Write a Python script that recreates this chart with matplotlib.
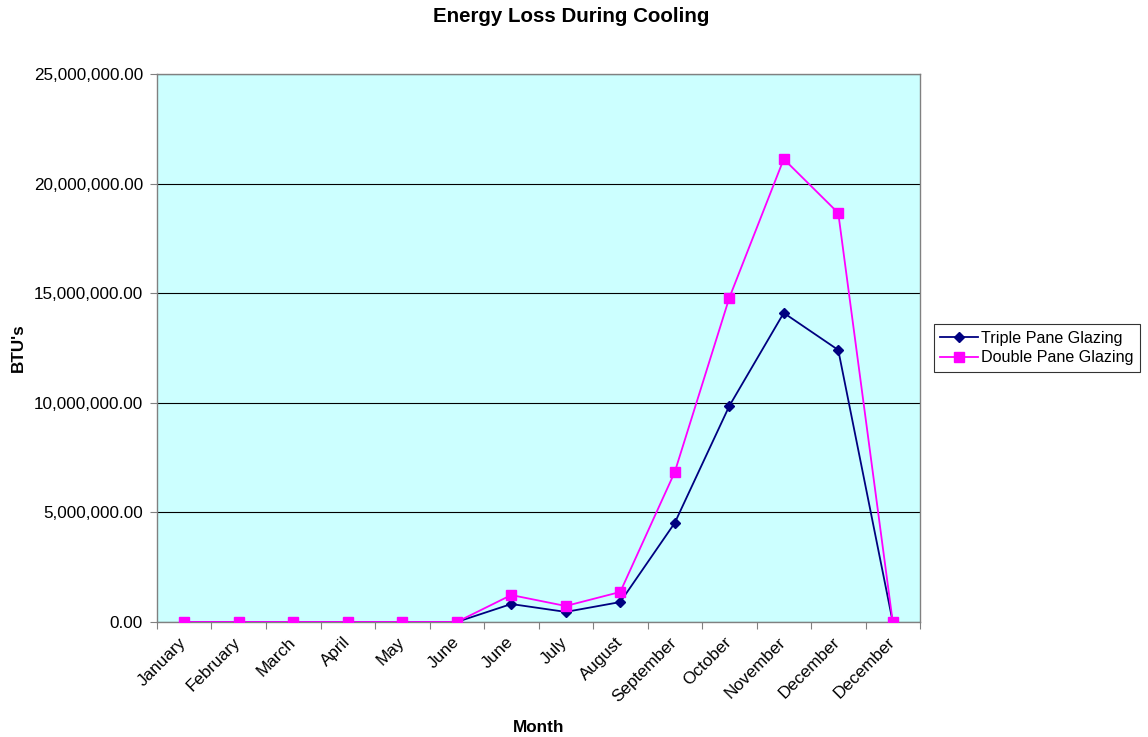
import matplotlib
matplotlib.use("Agg")
import matplotlib.pyplot as plt
from matplotlib.ticker import FuncFormatter, MultipleLocator, FixedLocator
from matplotlib.transforms import ScaledTranslation

months = ["January", "February", "March", "April", "May", "June", "June",
          "July", "August", "September", "October", "November", "December", "December"]
triple = [0, 0, 0, 0, 0, 0, 820000, 460000, 910000, 4520000, 9850000,
          14100000, 12410000, 0]
double = [0, 0, 0, 0, 0, 0, 1230000, 730000, 1370000, 6840000, 14780000,
          21120000, 18660000, 0]

plt.rcParams['font.family'] = ['Liberation Sans', 'DejaVu Sans']
FS = 12.3

fig = plt.figure(figsize=(11.48, 7.37), dpi=100)
ax = fig.add_axes([157/1148, 1 - 622/737, (920-157)/1148, (622-74)/737])
ax.set_facecolor('#CCFFFF')

x = list(range(len(months)))
ax.plot(x, triple, color='#000080', marker='D', markersize=5.5, linewidth=1.3,
        label='Triple Pane Glazing', zorder=3)
ax.plot(x, double, color='#FF00FF', marker='s', markersize=6.5, linewidth=1.3,
        label='Double Pane Glazing', zorder=4)

ax.set_xlim(-0.5, len(months) - 0.5)
ax.set_ylim(0, 25000000)
ax.yaxis.set_major_locator(MultipleLocator(5000000))
ax.yaxis.set_major_formatter(FuncFormatter(lambda v, p: f"{v:,.2f}"))
ax.grid(axis='y', color='black', linewidth=0.8)
ax.set_axisbelow(True)

# boundary ticks (major), labels at centers (minor)
ax.xaxis.set_major_locator(FixedLocator([i - 0.5 for i in range(len(months) + 1)]))
ax.xaxis.set_major_formatter(FuncFormatter(lambda v, p: ""))
ax.xaxis.set_minor_locator(FixedLocator(x))
ax.set_xticklabels(months, minor=True, rotation=45, ha='right', va='top',
                   rotation_mode='anchor', fontsize=FS)
ax.tick_params(axis='x', which='minor', length=0, pad=9)
ax.tick_params(axis='x', which='major', length=5, color='#808080')
ax.tick_params(axis='y', length=5, labelsize=FS, color='#808080', pad=5)
for lbl in ax.get_xticklabels(minor=True):
    lbl.set_transform(lbl.get_transform() + ScaledTranslation(-4/72, 0, fig.dpi_scale_trans))

for s in ax.spines.values():
    s.set_color('#808080')
    s.set_linewidth(1)

fig.text((157+920)/2/1148, 1 - 727/737, 'Month', fontweight='bold', fontsize=FS,
         ha='center', va='center')
fig.text(18/1148, 1 - 348/737, "BTU's", fontweight='bold', fontsize=FS,
         ha='center', va='center', rotation=90)
fig.text(571/1148, 1 - 16/737, 'Energy Loss During Cooling', fontweight='bold',
         fontsize=14.8, ha='center', va='center')

leg = ax.legend(loc='center left', bbox_to_anchor=(934/1148, 1 - 348/737),
                bbox_transform=fig.transFigure, fontsize=11.6, frameon=True,
                fancybox=False, edgecolor='black', borderpad=0.4,
                labelspacing=0.3, handlelength=2.3, handletextpad=0.2,
                borderaxespad=0)
leg.get_frame().set_linewidth(0.8)

fig.savefig('out.png', dpi=100)
